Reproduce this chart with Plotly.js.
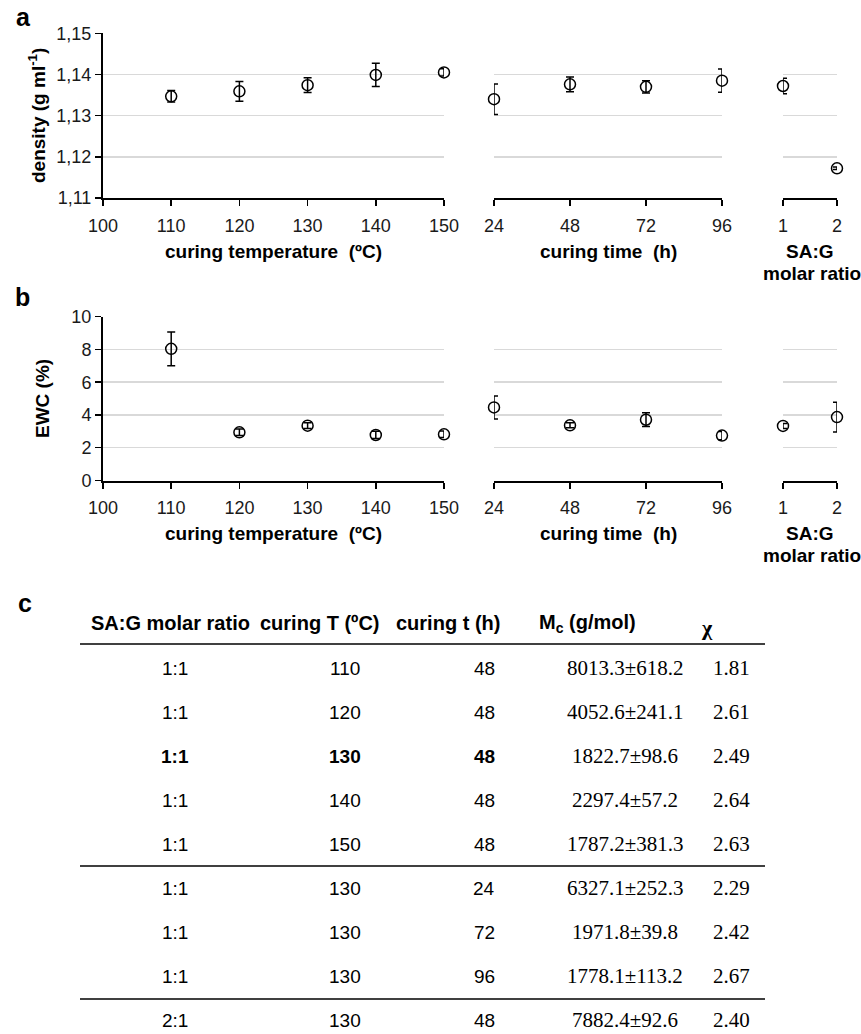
<!DOCTYPE html>
<html>
<head>
<meta charset="utf-8">
<script src="https://cdn.plot.ly/plotly-3.0.1.min.js"></script>
<style>html,body{margin:0;padding:0;background:#fff;}#chart{width:861px;height:1034px;}</style>
</head>
<body>
<div id="chart"></div>
<script>
// ---------- data ----------
const tempX = [110, 120, 130, 140, 150];
const timeX = [24, 48, 72, 96];
const ratioX = [1, 2];

const densTemp = [1.1347, 1.1359, 1.1374, 1.1399, 1.1405];
const densTempErr = [0.0014, 0.0024, 0.0018, 0.0028, 0.0009];
const densTime = [1.1340, 1.1376, 1.1370, 1.1385];
const densTimeErr = [0.0037, 0.0018, 0.0015, 0.0028];
const densRatio = [1.1372, 1.1172];
const densRatioErr = [0.0019, 0.0003];

const ewcTemp = [8.04, 2.94, 3.35, 2.78, 2.82];
const ewcTempErr = [1.03, 0.20, 0.18, 0.22, 0.20];
const ewcTime = [4.46, 3.37, 3.71, 2.74];
const ewcTimeErr = [0.70, 0.15, 0.42, 0.25];
const ewcRatio = [3.33, 3.87];
const ewcRatioErr = [0.15, 0.91];

const tempTicks = [100, 110, 120, 130, 140, 150];
const timeTicks = [24, 48, 72, 96];
const ratioTicks = [1, 2];

// table c
const headers = ['SA:G molar ratio', 'curing T (ºC)', 'curing t (h)', 'M<sub>c</sub> (g/mol)', 'χ'];
const colRatio = ['1:1', '1:1', '1:1', '1:1', '1:1', '1:1', '1:1', '1:1', '2:1'];
const colTemp = ['110', '120', '130', '140', '150', '130', '130', '130', '130'];
const colTime = ['48', '48', '48', '48', '48', '24', '72', '96', '48'];
const colMc = ['8013.3±618.2', '4052.6±241.1', '1822.7±98.6', '2297.4±57.2', '1787.2±381.3',
               '6327.1±252.3', '1971.8±39.8', '1778.1±113.2', '7882.4±92.6'];
const colChi = ['1.81', '2.61', '2.49', '2.64', '2.63', '2.29', '2.42', '2.67', '2.40'];
const boldRow = 2;

// ---------- layout helpers ----------
const W = 861, H = 1034;
const px = v => v / W;
const py = v => 1 - v / H;
const SANS = 'Arial, "Liberation Sans", sans-serif';
const SERIF = '"Times New Roman", "Liberation Serif", serif';

const mk = {symbol: 'circle-open', size: 11, color: '#000', line: {width: 1.5, color: '#000'}};
function tr(x, y, err, xa, ya) {
  return {x: x, y: y, type: 'scatter', mode: 'markers', marker: mk, cliponaxis: false,
    xaxis: xa, yaxis: ya, hoverinfo: 'skip',
    error_y: {type: 'data', array: err, visible: true, color: '#000', thickness: 1.5, width: 4}};
}

const data = [
  tr(tempX, densTemp, densTempErr, 'x', 'y'),
  tr(timeX, densTime, densTimeErr, 'x2', 'y2'),
  tr(ratioX, densRatio, densRatioErr, 'x3', 'y3'),
  tr(tempX, ewcTemp, ewcTempErr, 'x4', 'y4'),
  tr(timeX, ewcTime, ewcTimeErr, 'x5', 'y5'),
  tr(ratioX, ewcRatio, ewcRatioErr, 'x6', 'y6')
];

const dom1 = [px(103), px(444)], dom2 = [px(494), px(722)], dom3 = [px(783), px(837)];
const domA = [py(198), py(33.3)], domB = [py(480.5), py(316.7)];
const tickFont = {family: SANS, size: 18, color: '#1a1a1a'};

function xax(dom, anchor, range, ticks) {
  return {domain: dom, anchor: anchor, range: range, tickvals: ticks, ticktext: ticks.map(String),
    showgrid: false, zeroline: false, showline: true, linecolor: '#000', linewidth: 2,
    ticks: 'outside', ticklen: 6, tickwidth: 1.5, tickcolor: '#000', tickfont: tickFont,
    ticklabelstandoff: 4, fixedrange: true};
}
function yax(dom, anchor, range, dtick, main, fmt) {
  return {domain: dom, anchor: anchor, range: range, dtick: dtick, tick0: range[0],
    showgrid: true, gridcolor: '#d9d9d9', gridwidth: 1.5, zeroline: false,
    showline: main, linecolor: '#000', linewidth: 2,
    ticks: main ? 'outside' : '', ticklen: 6, tickwidth: 1.5, tickcolor: '#000',
    showticklabels: main, tickfont: tickFont, tickformat: fmt, fixedrange: true};
}

const layout = {
  width: W, height: H, margin: {l: 0, r: 0, t: 0, b: 0},
  paper_bgcolor: '#fff', plot_bgcolor: 'rgba(0,0,0,0)', showlegend: false,
  separators: ', ',
  xaxis: xax(dom1, 'y', [100, 150], tempTicks),
  xaxis2: xax(dom2, 'y2', [24, 96], timeTicks),
  xaxis3: xax(dom3, 'y3', [1, 2], ratioTicks),
  xaxis4: xax(dom1, 'y4', [100, 150], tempTicks),
  xaxis5: xax(dom2, 'y5', [24, 96], timeTicks),
  xaxis6: xax(dom3, 'y6', [1, 2], ratioTicks),
  yaxis: yax(domA, 'x', [1.11, 1.15], 0.01, true, '.2f'),
  yaxis2: yax(domA, 'x2', [1.11, 1.15], 0.01, false, '.2f'),
  yaxis3: yax(domA, 'x3', [1.11, 1.15], 0.01, false, '.2f'),
  yaxis4: yax(domB, 'x4', [0, 10], 2, true, 'd'),
  yaxis5: yax(domB, 'x5', [0, 10], 2, false, 'd'),
  yaxis6: yax(domB, 'x6', [0, 10], 2, false, 'd'),
  annotations: [],
  shapes: []
};

const ann = layout.annotations;
function txt(x, y, t, opts) {
  ann.push(Object.assign({xref: 'paper', yref: 'paper', x: px(x), y: py(y), text: t,
    showarrow: false, xanchor: 'center', yanchor: 'middle',
    font: {family: SANS, size: 19, color: '#000'}}, opts || {}));
}
const bold = s => '<b>' + s + '</b>';
const titleFont = {family: SANS, size: 19, color: '#000'};

// panel letters
txt(23, 17, bold('a'), {font: {family: SANS, size: 25, color: '#000'}});
txt(22, 297, bold('b'), {font: {family: SANS, size: 25, color: '#000'}});
txt(25, 603, bold('c'), {font: {family: SANS, size: 25, color: '#000'}});

// axis titles
txt(37, 116, bold('density (g ml<sup>-1</sup>)'), {textangle: -90, font: titleFont});
txt(42, 399, bold('EWC (%)'), {textangle: -90, font: titleFont});
[[251, 273], [533, 555]].forEach(function (r) {
  txt(273.5, r[0], bold('curing temperature  (ºC)'), {font: titleFont});
  txt(608, r[0], bold('curing time  (h)'), {font: titleFont});
  txt(810, r[0], bold('SA:G'), {font: titleFont});
  txt(812, r[1], bold('molar ratio'), {font: titleFont});
});

// table
const hdrX = [170, 320, 448, 587, 707];
const colX = [175, 345, 484, 625, 731];
const hdrY = 623;
headers.forEach(function (h, i) {
  const f = i === 4 ? {family: SERIF, size: 22, color: '#000'} : {family: SANS, size: 20, color: '#000'};
  txt(hdrX[i], i === 4 ? hdrY + 4 : hdrY, bold(h), {font: f});
});
const rowY = i => 668 + 44 * i;
const sansCell = {family: SANS, size: 19, color: '#000'};
const serifCell = {family: SERIF, size: 21, color: '#000'};
colRatio.forEach(function (_, i) {
  const b = i === boldRow ? bold : (s => s);
  txt(colX[0], rowY(i), b(colRatio[i]), {font: sansCell});
  txt(colX[1], rowY(i), b(colTemp[i]), {font: sansCell});
  txt(colX[2], rowY(i), b(colTime[i]), {font: sansCell});
  txt(colX[3], rowY(i), colMc[i], {font: serifCell});
  txt(colX[4], rowY(i), colChi[i], {font: serifCell});
});
[644, 866, 999].forEach(function (y) {
  layout.shapes.push({type: 'line', xref: 'paper', yref: 'paper', x0: px(80), x1: px(765),
    y0: py(y), y1: py(y), line: {color: '#000', width: 1.5}});
});

Plotly.newPlot('chart', data, layout, {staticPlot: true, displayModeBar: false});
</script>
</body>
</html>
